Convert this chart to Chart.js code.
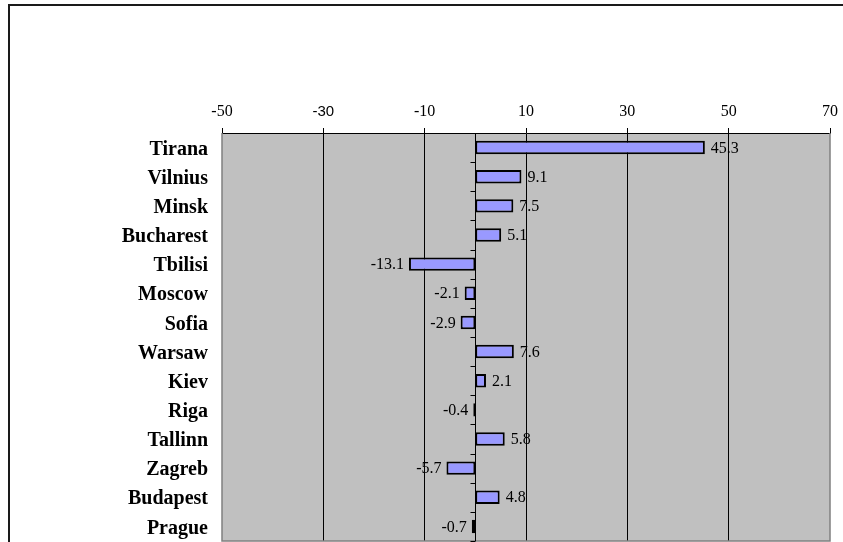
<!DOCTYPE html>
<html>
<head>
<meta charset="utf-8">
<script src="https://cdn.jsdelivr.net/npm/chart.js@4"></script>
<style>
  html, body { margin: 0; padding: 0; background: #fff; overflow: hidden; }
  canvas { display: block; }
</style>
</head>
<body>
<canvas id="c" width="843" height="542"></canvas>
<script>
const cities = ['Tirana', 'Vilnius', 'Minsk', 'Bucharest', 'Tbilisi', 'Moscow', 'Sofia',
                'Warsaw', 'Kiev', 'Riga', 'Tallinn', 'Zagreb', 'Budapest', 'Prague'];
const changes = [45.3, 9.1, 7.5, 5.1, -13.1, -2.1, -2.9, 7.6, 2.1, -0.4, 5.8, -5.7, 4.8, -0.7];
const xTickValues = [-50, -30, -10, 10, 30, 50, 70];

const SERIF = '"Liberation Serif", "Times New Roman", serif';
const SANS = '"Liberation Sans", Arial, sans-serif';

// Frame around the whole chart, grey plot background and plot border
const framePlugin = {
  id: 'frame',
  beforeDraw(chart) {
    const { ctx, chartArea: a } = chart;
    ctx.save();
    ctx.fillStyle = '#ffffff';
    ctx.fillRect(0, 0, chart.width, chart.height);
    ctx.strokeStyle = '#1a1a1a';
    ctx.lineWidth = 2;
    ctx.strokeRect(9, 5, chart.width + 20, chart.height + 20);
    ctx.fillStyle = '#c0c0c0';
    ctx.fillRect(a.left, a.top, a.right - a.left, a.bottom - a.top);
    ctx.restore();
  },
  beforeDatasetsDraw(chart) {
    const { ctx, chartArea: a, scales } = chart;
    ctx.save();
    ctx.strokeStyle = '#808080';
    ctx.lineWidth = 1.5;
    ctx.beginPath();
    ctx.moveTo(a.left, a.top);
    ctx.lineTo(a.left, a.bottom);
    ctx.lineTo(a.right, a.bottom);
    ctx.lineTo(a.right, a.top);
    ctx.stroke();
    // value axis at zero with category tick marks
    const x0 = Math.round(scales.x.getPixelForValue(0)) + 0.5;
    ctx.strokeStyle = '#000';
    ctx.lineWidth = 1;
    ctx.beginPath();
    ctx.moveTo(x0, a.top);
    ctx.lineTo(x0, a.bottom);
    const band = (a.bottom - a.top) / cities.length;
    for (let i = 0; i <= cities.length; i++) {
      const y = Math.round(a.top + i * band) + 0.5;
      ctx.moveTo(x0 - 5, y);
      ctx.lineTo(x0, y);
    }
    ctx.stroke();
    ctx.restore();
  },
  afterDatasetsDraw(chart) {
    const { ctx } = chart;
    const meta = chart.getDatasetMeta(0);
    ctx.save();
    ctx.fillStyle = '#000';
    ctx.font = '16px ' + SERIF;
    ctx.textBaseline = 'middle';
    meta.data.forEach((bar, i) => {
      const v = changes[i];
      const txt = v.toFixed(1);
      if (v >= 0) {
        ctx.textAlign = 'left';
        ctx.fillText(txt, bar.x + 6, bar.y + 1);
      } else {
        ctx.textAlign = 'right';
        ctx.fillText(txt, bar.x - 5, bar.y + 1);
      }
    });
    ctx.restore();
  }
};

new Chart(document.getElementById('c'), {
  type: 'bar',
  data: {
    labels: cities,
    datasets: [{
      data: changes,
      backgroundColor: '#9999ff',
      borderColor: '#000000',
      borderWidth: 2,
      borderSkipped: false,
      categoryPercentage: 1,
      barPercentage: 0.46
    }]
  },
  options: {
    indexAxis: 'y',
    responsive: false,
    animation: false,
    devicePixelRatio: 1,
    layout: { padding: { left: 0, right: 13, top: 0, bottom: 1 } },
    plugins: {
      legend: { display: false },
      tooltip: { enabled: false }
    },
    scales: {
      x: {
        position: 'top',
        min: -50,
        max: 70,
        afterBuildTicks(scale) {
          scale.ticks = xTickValues.map(v => ({ value: v }));
        },
        afterFit(scale) {
          scale.height = 133;
          scale.paddingLeft = 0;
          scale.paddingRight = 0;
        },
        grid: {
          color: ctx => (ctx.tick && (ctx.tick.value === -50 || ctx.tick.value === 70)) ? 'rgba(0,0,0,0)' : '#000000',
          tickColor: '#000000',
          lineWidth: 1,
          tickLength: 5,
          drawTicks: true
        },
        border: { display: true, color: '#000000', width: 1 },
        ticks: {
          color: '#000000',
          padding: 7,
          maxRotation: 0,
          autoSkip: false,
          font: ctx => (ctx.tick && ctx.tick.value === -30)
            ? { family: SANS, size: 15 }
            : { family: SERIF, size: 16 },
          callback: v => String(v)
        }
      },
      y: {
        afterFit(scale) {
          scale.width = 222;
          scale.paddingTop = 0;
          scale.paddingBottom = 0;
        },
        grid: { display: false, drawTicks: false },
        border: { display: false },
        ticks: {
          color: '#000000',
          padding: 14,
          labelOffset: 2,
          autoSkip: false,
          font: { family: SERIF, size: 20, weight: 'bold' }
        }
      }
    }
  },
  plugins: [framePlugin]
});
</script>
</body>
</html>
